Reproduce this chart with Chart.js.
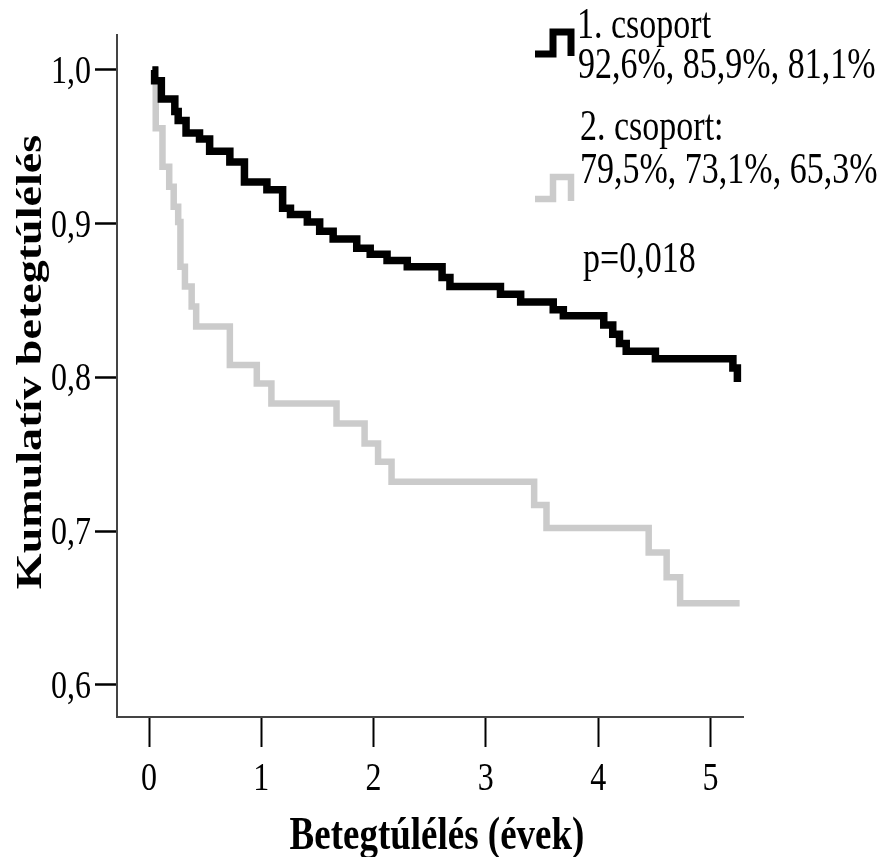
<!DOCTYPE html>
<html>
<head>
<meta charset="utf-8">
<script src="https://cdn.jsdelivr.net/npm/chart.js@4.4.1/dist/chart.umd.min.js"></script>
<style>
  html, body { margin: 0; padding: 0; background: #fff; }
  #km { display: block; }
</style>
</head>
<body>
<canvas id="km" width="889" height="857"></canvas>
<script>
// tengelyek
const yearTicks = [0, 1, 2, 3, 4, 5];
const survTicks = [0.6, 0.7, 0.8, 0.9, 1.0];

// 1. csoport (fekete)
const timeG1 = [0.03, 0.05, 0.11, 0.23, 0.26, 0.33, 0.45, 0.54, 0.72, 0.85, 1.05, 1.19, 1.26, 1.41, 1.52, 1.64,
                1.85, 1.97, 2.12, 2.30, 2.61, 2.68, 3.13, 3.31, 3.60, 3.69, 4.05, 4.13, 4.19, 4.25, 4.51, 5.20, 5.24];
const survG1 = [1.0, 0.993, 0.981, 0.973, 0.967, 0.959, 0.955, 0.947, 0.940, 0.927, 0.922, 0.910, 0.906, 0.901, 0.895, 0.890,
                0.884, 0.880, 0.876, 0.872, 0.865, 0.859, 0.854, 0.849, 0.844, 0.840, 0.834, 0.828, 0.822, 0.817, 0.812, 0.806, 0.797];

// 2. csoport (szurke)
const timeG2 = [0.03, 0.06, 0.12, 0.18, 0.22, 0.26, 0.28, 0.32, 0.38, 0.42, 0.72, 0.96, 1.09, 1.67, 1.92, 2.04, 2.16,
                3.43, 3.54, 4.45, 4.61, 4.73, 5.26];
const survG2 = [1.0, 0.962, 0.937, 0.924, 0.911, 0.901, 0.872, 0.859, 0.846, 0.833, 0.808, 0.796, 0.783, 0.770, 0.757, 0.745, 0.732,
                0.717, 0.702, 0.686, 0.670, 0.653, 0.653];

const legendG1 = ['1. csoport', '92,6%, 85,9%, 81,1%'];
const legendG2 = ['2. csoport:', '79,5%, 73,1%, 65,3%'];
const pText = 'p=0,018';
const xTitle = 'Betegtúlélés (évek)';
const yTitle = 'Kumulatív betegtúlélés';

const SY = 1.28; // az eredeti kep fuggolegesen nyujtott
const SERIF = '"Liberation Serif", "Times New Roman", serif';

function toPoints(ts, vs) {
  return ts.map((t, i) => ({ x: t, y: vs[i] }));
}

function stretchText(ctx, text, x, y, font, align, rotate) {
  ctx.save();
  ctx.translate(x, y);
  ctx.scale(1, SY);
  if (rotate) ctx.rotate(-Math.PI / 2);
  ctx.font = font;
  ctx.textAlign = align;
  ctx.textBaseline = 'alphabetic';
  ctx.fillStyle = '#000';
  ctx.fillText(text, 0, 0);
  ctx.restore();
}

function stepIcon(ctx, x, y, color, w) {
  ctx.save();
  ctx.strokeStyle = color;
  ctx.lineWidth = w;
  ctx.lineJoin = 'miter';
  ctx.lineCap = 'butt';
  ctx.beginPath();
  ctx.moveTo(x, y);
  ctx.lineTo(x + 18, y);
  ctx.lineTo(x + 18, y - 22);
  ctx.lineTo(x + 36, y - 22);
  ctx.lineTo(x + 36, y + 2);
  ctx.stroke();
  ctx.restore();
}

const labelPlugin = {
  id: 'labels',
  afterDraw(chart) {
    const ctx = chart.ctx;
    const xs = chart.scales.x, ys = chart.scales.y;

    survTicks.forEach(v => {
      stretchText(ctx, v.toFixed(1).replace('.', ','), 91, ys.getPixelForValue(v) + 13, '32px ' + SERIF, 'right');
    });
    yearTicks.forEach(v => {
      stretchText(ctx, String(v), xs.getPixelForValue(v), 790, '32px ' + SERIF, 'center');
    });

    stretchText(ctx, xTitle, 437, 849, 'bold 37px ' + SERIF, 'center');
    stretchText(ctx, yTitle, 41, 362, 'bold 36px ' + SERIF, 'center', true);

    // jelmagyarazat
    stepIcon(ctx, 535, 54, '#000', 7);
    stepIcon(ctx, 535, 199, '#cbcbcb', 6.5);
    const f = '34px ' + SERIF;
    stretchText(ctx, legendG1[0], 577, 38, f, 'left');
    stretchText(ctx, legendG1[1], 578, 78, f, 'left');
    stretchText(ctx, legendG2[0], 580, 140, f, 'left');
    stretchText(ctx, legendG2[1], 580, 183, f, 'left');
    stretchText(ctx, pText, 583, 272, f, 'left');
  }
};

const ctx = document.getElementById('km').getContext('2d');
new Chart(ctx, {
  type: 'line',
  data: {
    datasets: [{
      label: legendG1[0],
      data: toPoints(timeG1, survG1),
      borderColor: '#000',
      borderWidth: 7.5,
      stepped: 'before',
      pointRadius: 0,
      fill: false,
      borderJoinStyle: 'miter'
    }, {
      label: legendG2[0],
      data: toPoints(timeG2, survG2),
      borderColor: '#cbcbcb',
      borderWidth: 6.5,
      stepped: 'before',
      pointRadius: 0,
      fill: false,
      borderJoinStyle: 'miter'
    }]
  },
  options: {
    responsive: false,
    animation: false,
    devicePixelRatio: 1,
    layout: { padding: { top: 35, right: 146, left: 0, bottom: 0 } },
    plugins: {
      legend: { display: false },
      tooltip: { enabled: false }
    },
    scales: {
      x: {
        type: 'linear',
        min: -0.285,
        max: 5.29,
        afterBuildTicks: s => { s.ticks = yearTicks.map(v => ({ value: v })); },
        afterFit: s => { s.height = 140; },
        ticks: { display: false },
        grid: { drawOnChartArea: false, drawTicks: true, tickLength: 30, tickWidth: 2, tickColor: '#000' },
        border: { color: '#444', width: 2 }
      },
      y: {
        type: 'linear',
        min: 0.579,
        max: 1.0227,
        afterBuildTicks: s => { s.ticks = survTicks.map(v => ({ value: v })); },
        afterFit: s => { s.width = 117; },
        ticks: { display: false },
        grid: { drawOnChartArea: false, drawTicks: true, tickLength: 22, tickWidth: 2.5, tickColor: '#000' },
        border: { color: '#444', width: 2 }
      }
    }
  },
  plugins: [labelPlugin]
});
</script>
</body>
</html>
